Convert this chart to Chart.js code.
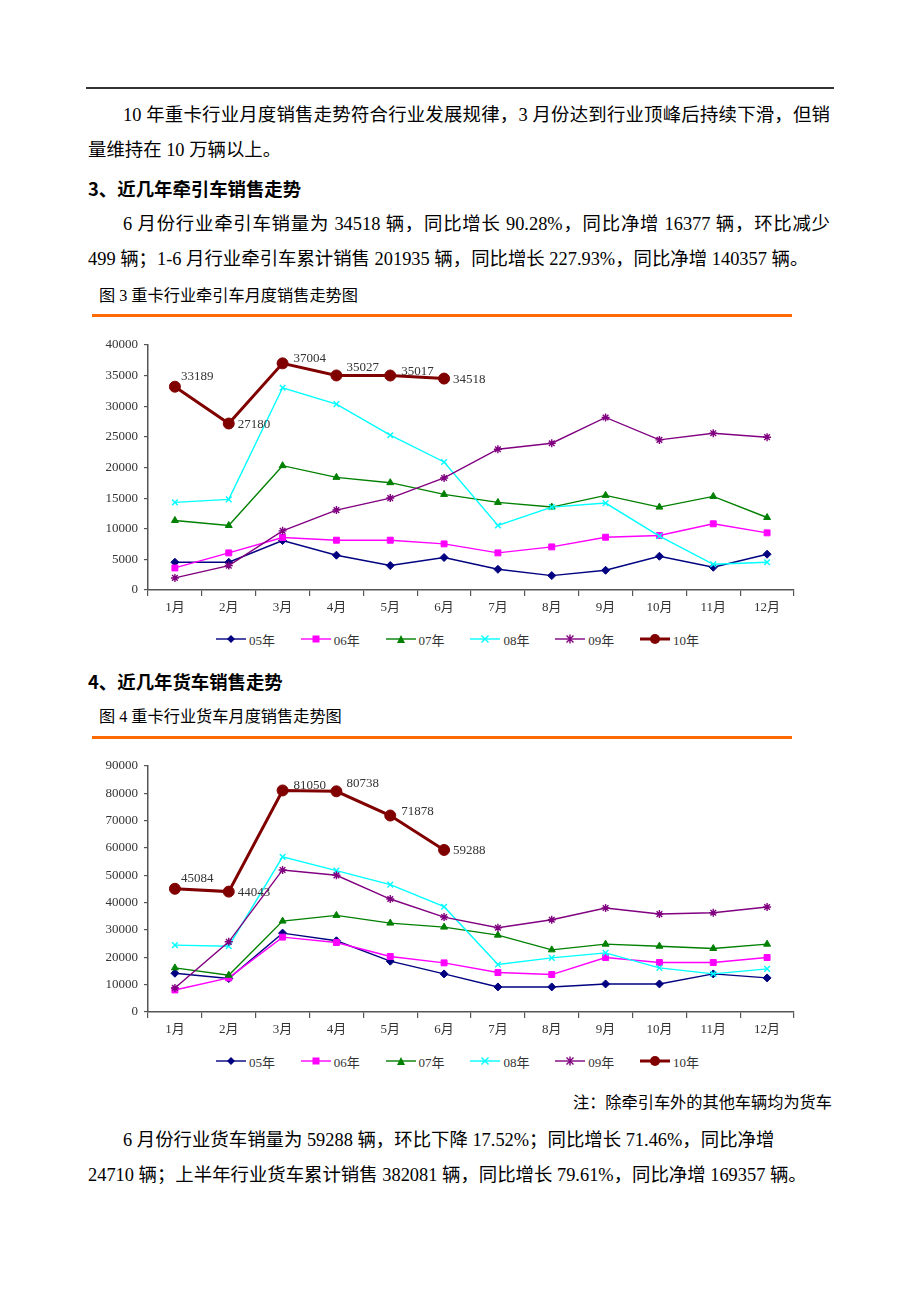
<!DOCTYPE html>
<html lang="zh">
<head>
<meta charset="utf-8">
<title>重卡行业牵引车、货车月度销售走势</title>
<script src="https://cdn.jsdelivr.net/npm/chart.js@4.4.1/dist/chart.umd.min.js"></script>
<style>
	body {
		margin: 0;
		width: 920px;
		height: 1302px;
		position: relative;
		background: #fff;
		color: #000;
		font-family: "Liberation Serif", "Noto Sans CJK SC", serif;
		overflow: hidden;
	}
	.ln {
		position: absolute;
		left: 88px;
		font-size: 18.4px;
		line-height: 24px;
		white-space: nowrap;
	}
	.just {
		white-space: normal;
		width: 707px;
		text-align: justify;
		text-align-last: justify;
	}
	.indent { left: 123px; }
	.head { font-family: "Noto Sans CJK SC", sans-serif; font-weight: bold; }
	.cap { left: 99px; font-size: 16.2px; }
	.rule-top { position: absolute; left: 86px; top: 87px; width: 748px; height: 1.5px; background: #333; }
	.rule-orange { position: absolute; left: 92px; width: 700px; height: 3px; background: #ff6a00; }
	.chart-box { position: absolute; left: 90px; width: 720px; }
	.legend { position: absolute; left: 0; width: 920px; height: 20px; font-size: 13px; color: #333; }
	.legend-item { position: absolute; top: 0; display: flex; align-items: center; height: 20px; }
	.legend-item svg { margin-right: 3px; }
</style>
</head>
<body>

<div class="rule-top"></div>

<div class="ln just indent" style="top:103px;">10 年重卡行业月度销售走势符合行业发展规律，3 月份达到行业顶峰后持续下滑，但销</div>
<div class="ln" style="top:138px;">量维持在 10 万辆以上。</div>
<div class="ln head" style="top:176px;">3、近几年牵引车销售走势</div>
<div class="ln just indent" style="top:212px;">6 月份行业牵引车销量为 34518 辆，同比增长 90.28%，同比净增 16377 辆，环比减少</div>
<div class="ln" style="top:247px;">499 辆；1-6 月行业牵引车累计销售 201935 辆，同比增长 227.93%，同比净增 140357 辆。</div>
<div class="ln cap" style="top:284px;">图 3 重卡行业牵引车月度销售走势图</div>
<div class="rule-orange" style="top:314px;"></div>

<div class="chart-box" style="top:330px; height:290px;"><canvas id="tractor-chart" width="720" height="290"></canvas></div>
<div class="legend" id="tractor-legend" style="top:629px;"></div>

<div class="ln head" style="top:669px;">4、近几年货车销售走势</div>
<div class="ln cap" style="top:705px;">图 4 重卡行业货车月度销售走势图</div>
<div class="rule-orange" style="top:736px;"></div>

<div class="chart-box" style="top:751px; height:291px;"><canvas id="truck-chart" width="720" height="291"></canvas></div>
<div class="legend" id="truck-legend" style="top:1051px;"></div>

<div class="ln" style="top:1091px; left:auto; right:88px; font-size:16.2px;">注：除牵引车外的其他车辆均为货车</div>
<div class="ln indent" style="top:1128px;">6 月份行业货车销量为 59288 辆，环比下降 17.52%；同比增长 71.46%，同比净增</div>
<div class="ln" style="top:1163px;">24710 辆；上半年行业货车累计销售 382081 辆，同比增长 79.61%，同比净增 169357 辆。</div>

<script>
// 月份与年份
const months = ["1月", "2月", "3月", "4月", "5月", "6月", "7月", "8月", "9月", "10月", "11月", "12月"];
const years = ["05年", "06年", "07年", "08年", "09年", "10年"];

// 图3 牵引车月度销量（辆）
const tractor05 = [4530, 4530, 8080, 5680, 3990, 5300, 3380, 2350, 3220, 5510, 3710, 5840];
const tractor06 = [3600, 6060, 8570, 8130, 8130, 7530, 6060, 7040, 8620, 8900, 10810, 9330];
const tractor07 = [11350, 10530, 20300, 18390, 17520, 15610, 14300, 13540, 15450, 13540, 15280, 11840];
const tractor08 = [14300, 14790, 33020, 30350, 25270, 20900, 10530, 13540, 14190, 8790, 4200, 4530];
const tractor09 = [1970, 3990, 9660, 13050, 15010, 18290, 22980, 23960, 28170, 24510, 25600, 24950];
const tractor10 = [33189, 27180, 37004, 35027, 35017, 34518];
const tractorMax = 40000;
const tractorStep = 5000;

// 图4 货车月度销量（辆）
const truck05 = [14180, 12230, 28860, 26050, 18590, 13940, 9170, 9170, 10270, 10270, 13940, 12470];
const truck06 = [8070, 12470, 27390, 25430, 20300, 17980, 14430, 13700, 19930, 18100, 18100, 19930];
const truck07 = [16140, 13450, 33260, 35340, 32530, 31060, 28120, 22740, 24820, 24080, 23230, 24820];
const truck08 = [24460, 24080, 56740, 51720, 46590, 38520, 17360, 19810, 21640, 16140, 13940, 15770];
const truck09 = [8800, 25680, 51970, 50010, 41330, 34730, 30810, 33750, 38030, 35830, 36320, 38400];
const truck10 = [45084, 44043, 81050, 80738, 71878, 59288];
const truckMax = 90000;
const truckStep = 10000;

// 每个年份的样式（颜色、点形状）
const seriesStyles = [
	{ color: "#000080", pointStyle: "rectRot", radius: 4, width: 1.4 },
	{ color: "#ff00ff", pointStyle: "rect", radius: 4.2, width: 1.4 },
	{ color: "#008000", pointStyle: "triangle", radius: 4, width: 1.4 },
	{ color: "#00ffff", pointStyle: "crossRot", radius: 4, width: 1.4 },
	{ color: "#800080", pointStyle: "star", radius: 4, width: 1.4 },
	{ color: "#800000", pointStyle: "circle", radius: 5.5, width: 3 },
];

// 10年数据标签相对数据点的偏移
const labelShift = [
	[6, -10], [9, 1], [11, -5], [10, -8], [11, -4], [9, 1],
];

const fontFamily = '"Liberation Serif", "Noto Sans CJK SC", serif';
Chart.defaults.font.family = fontFamily;
Chart.defaults.font.size = 13;
Chart.defaults.color = "#333";

/**
 * 画出最后一个系列（10年）的数值标签
 */
const valueLabels = {
	id: "valueLabels",
	afterDatasetsDraw(chart) {
		const last = chart.data.datasets.length - 1;
		const meta = chart.getDatasetMeta(last);
		const values = chart.data.datasets[last].data;
		const ctx = chart.ctx;
		ctx.save();
		ctx.font = "13px " + fontFamily;
		ctx.fillStyle = "#333";
		ctx.textAlign = "left";
		ctx.textBaseline = "middle";
		meta.data.forEach((pt, i) => {
			const shift = labelShift[i] || [8, 0];
			ctx.fillText(String(values[i]), pt.x + shift[0], pt.y + shift[1]);
		});
		ctx.restore();
	},
};

function buildDatasets(seriesList) {
	return seriesList.map((values, i) => {
		const st = seriesStyles[i];
		return {
			label: years[i],
			data: values,
			borderColor: st.color,
			backgroundColor: st.color,
			borderWidth: st.width,
			pointStyle: st.pointStyle,
			pointRadius: st.radius,
			pointBorderWidth: st.pointStyle === "crossRot" || st.pointStyle === "star" ? 1.4 : 1,
			pointBorderColor: st.color,
			pointBackgroundColor: st.color,
			tension: 0,
			order: seriesList.length - i,
		};
	});
}

function drawLineChart(canvasId, seriesList, yMax, yStep) {
	const ctx = document.getElementById(canvasId).getContext("2d");
	return new Chart(ctx, {
		type: "line",
		data: {
			labels: months,
			datasets: buildDatasets(seriesList),
		},
		options: {
			responsive: false,
			animation: false,
			layout: {
				padding: { left: 0, right: 16, top: 15, bottom: 0 },
			},
			plugins: {
				legend: { display: false },
				tooltip: { enabled: false },
			},
			scales: {
				x: {
					offset: true,
					grid: {
						offset: true,
						drawOnChartArea: false,
						drawTicks: true,
						tickLength: 6,
						color: "#555",
						lineWidth: 1.2,
					},
					border: { color: "#555", width: 1.5 },
					ticks: { padding: 4, maxRotation: 0, autoSkip: false },
					afterFit: (scale) => {
						scale.height = 30;
					},
				},
				y: {
					min: 0,
					max: yMax,
					grid: {
						drawOnChartArea: false,
						drawTicks: true,
						tickLength: 4,
						color: "#555",
						lineWidth: 1.2,
					},
					border: { color: "#555", width: 1.5 },
					ticks: {
						stepSize: yStep,
						padding: 6,
						callback: (value) => String(value), // 不要千位分隔符
					},
					afterFit: (scale) => {
						scale.width = 58;
					},
				},
			},
		},
		plugins: [valueLabels],
	});
}

/**
 * 图例：HTML + 小的 SVG 标记
 */
function markerSvg(st) {
	const c = st.color;
	let mark = "";
	switch (st.pointStyle) {
		case "rectRot":
			mark = `<polygon points="15,2 19,6 15,10 11,6" fill="${c}"/>`;
			break;
		case "rect":
			mark = `<rect x="11.5" y="2.5" width="7" height="7" fill="${c}"/>`;
			break;
		case "triangle":
			mark = `<polygon points="15,2 19,10 11,10" fill="${c}"/>`;
			break;
		case "crossRot":
			mark = `<path d="M11.5 2.5 L18.5 9.5 M18.5 2.5 L11.5 9.5" stroke="${c}" stroke-width="1.4"/>`;
			break;
		case "star":
			mark = `<path d="M11.5 2.5 L18.5 9.5 M18.5 2.5 L11.5 9.5 M15 1.5 L15 10.5" stroke="${c}" stroke-width="1.4"/>`;
			break;
		default:
			mark = `<circle cx="15" cy="6" r="5" fill="${c}"/>`;
	}
	return `<svg width="30" height="12" viewBox="0 0 30 12"><line x1="0" y1="6" x2="30" y2="6" stroke="${c}" stroke-width="${st.width}"/>${mark}</svg>`;
}

function buildLegend(containerId) {
	const box = document.getElementById(containerId);
	years.forEach((name, i) => {
		const item = document.createElement("div");
		item.className = "legend-item";
		item.style.left = 216 + i * 84.8 + "px";
		item.innerHTML = markerSvg(seriesStyles[i]) + `<span>${name}</span>`;
		box.appendChild(item);
	});
}

drawLineChart("tractor-chart", [tractor05, tractor06, tractor07, tractor08, tractor09, tractor10], tractorMax, tractorStep);
drawLineChart("truck-chart", [truck05, truck06, truck07, truck08, truck09, truck10], truckMax, truckStep);
buildLegend("tractor-legend");
buildLegend("truck-legend");
</script>
</body>
</html>
